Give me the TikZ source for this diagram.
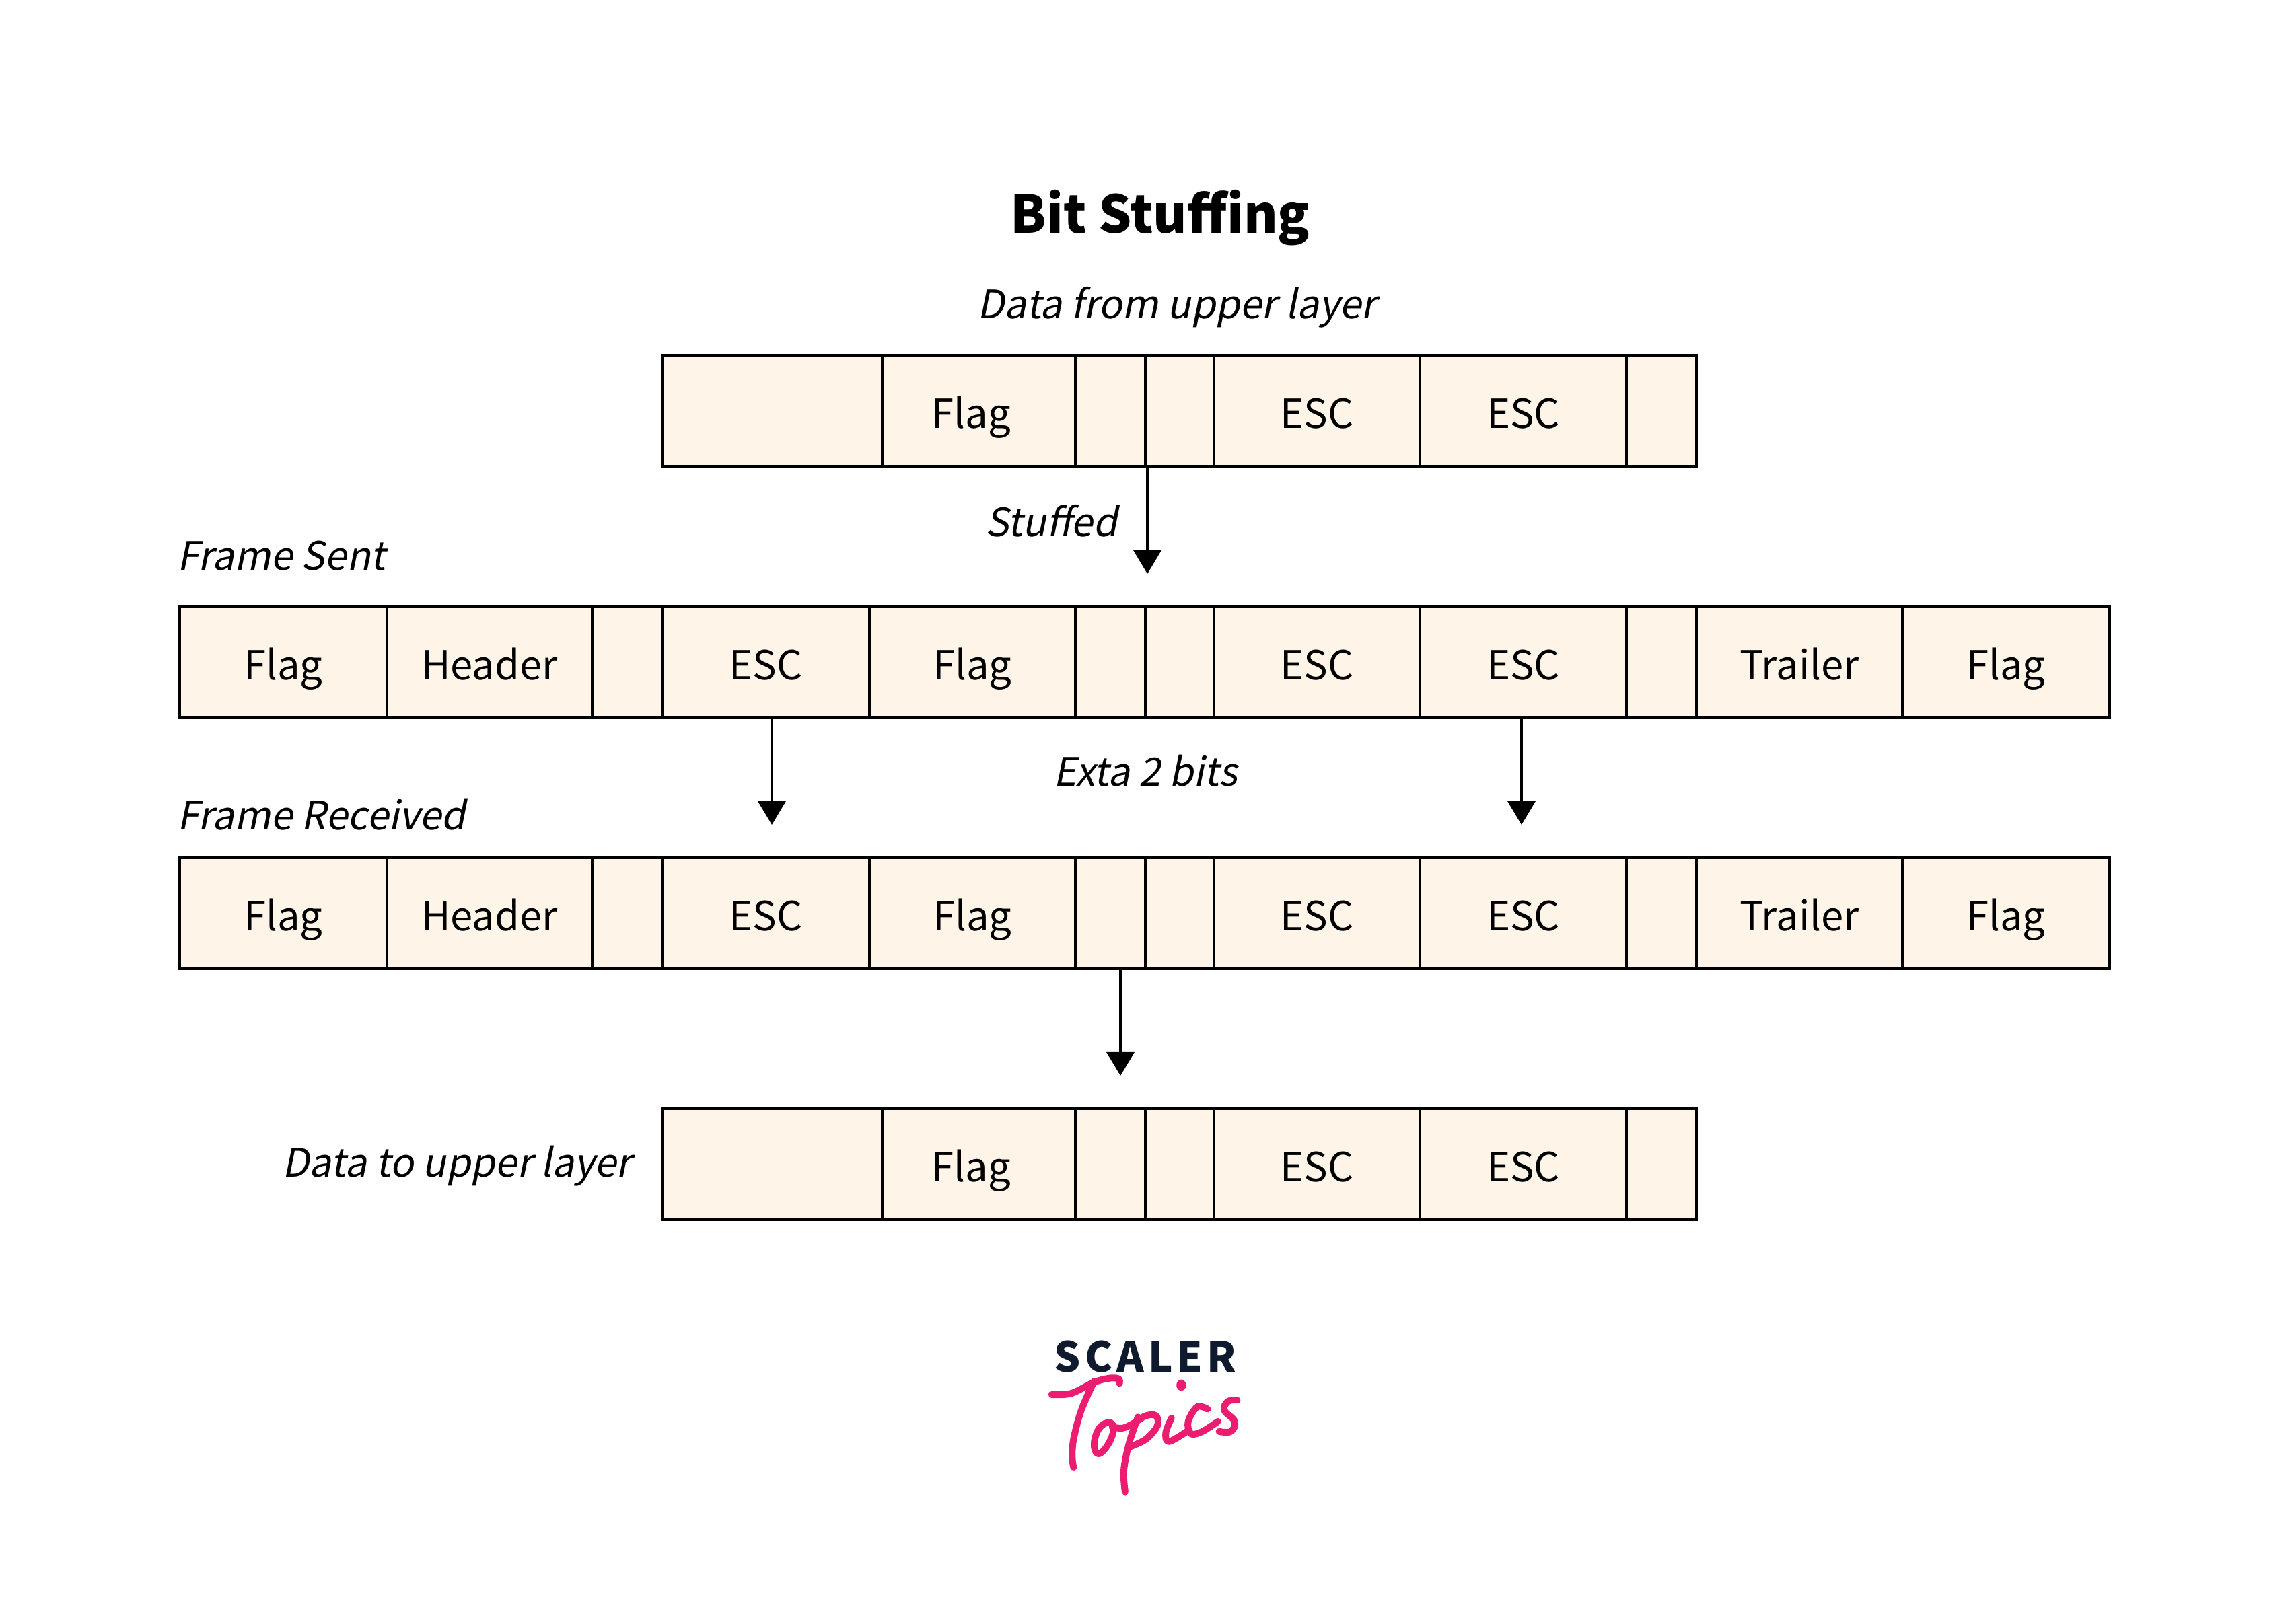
\documentclass[tikz,border=0pt]{standalone}
\usepackage{fontspec}
\setmainfont{Noto Sans CJK SC}[AutoFakeSlant=0.2]
\usetikzlibrary{arrows.meta}
\definecolor{cellfill}{HTML}{FEF5E8}
\definecolor{logodark}{HTML}{0F1A2E}
\definecolor{logopink}{HTML}{EC1C70}
\tikzset{
    cell/.style={draw=black,fill=cellfill,line width=1pt,anchor=south west,inner sep=0pt,outer sep=0pt,
        minimum height=1.65cm,font=\fontsize{17}{20}\selectfont,text height=.61cm,text depth=.09cm},
    caption/.style={font=\fontsize{16.6}{20}\selectfont\itshape,inner sep=0pt},
    arrow/.style={line width=1pt,-{Triangle[length=.35cm,width=.41cm]}},
    pen/.style={draw=logopink,line width=.1cm,line cap=round,line join=round}
}
\begin{document}
\begin{tikzpicture}
    \useasboundingbox (0,0) rectangle (34,24.14);
    \node[font=\fontsize{22}{26}\selectfont\bfseries,inner sep=0pt] (title) at (17.24,20.90) {Bit Stuffing};
    % rows of the whole frame
    \foreach \r/\y in {sent/13.47,recv/9.74} {
        \foreach \n/\x/\w/\t in {1/2.67/3.08/Flag,2/5.75/3.05/Header,3/8.80/1.04/,4/9.84/3.08/ESC,5/12.92/3.06/Flag,6/15.98/1.04/,7/17.02/1.02/,8/18.04/3.06/ESC,9/21.10/3.07/ESC,10/24.17/1.04/,11/25.21/3.06/Trailer,12/28.27/3.08/Flag} {
            \node[cell,minimum width=\w cm] (\r\n) at (\x,\y) {\t};
        }
    }
    % rows of the data only
    \foreach \r/\y in {upper/17.21,lower/6.01} {
        \foreach \n/\x/\w/\t in {1/9.84/3.27/,2/13.11/2.87/\hspace*{-.22cm}Flag,3/15.98/1.04/,4/17.02/1.02/,5/18.04/3.06/ESC,6/21.10/3.07/ESC,7/24.17/1.04/} {
            \node[cell,minimum width=\w cm] (\r\n) at (\x,\y) {\t};
        }
    }
    \node[caption,anchor=south] (fromupper) at (17.49,19.26) {Data from upper layer};
    \node[caption,anchor=base east] (stuffed) at (16.61,16.16) {Stuffed};
    \node[caption,anchor=base west] (framesent) at (2.63,15.66) {Frame Sent};
    \node[caption,anchor=base] (extra) at (17.02,12.45) {Exta 2 bits};
    \node[caption,anchor=base west] (framerecv) at (2.63,11.80) {Frame Received};
    \node[caption,anchor=base east] (toupper) at (9.39,6.64) {Data to upper layer};
    % arrows
    \coordinate (stufftip) at (17.05,15.61);
    \coordinate (esctip) at (11.47,11.88);
    \coordinate (esctipb) at (22.61,11.88);
    \coordinate (lowertip) at (16.65,8.15);
    \draw[arrow] (stufftip |- upper4.south) -- (stufftip);
    \draw[arrow] (esctip |- sent4.south) -- (esctip);
    \draw[arrow] (esctipb |- sent9.south) -- (esctipb);
    \draw[arrow] (lowertip |- recv6.south) -- (lowertip);
    % logo
    \node[font=\fontsize{17.5}{20}\selectfont\bfseries\addfontfeature{LetterSpace=10},text=logodark,inner sep=0pt,anchor=base] (scaler) at (17.02,3.74) {SCALER};
    \begin{scope}[shift={(14,5.14)},x=0.003827cm,y=-0.003333cm]
        \draw[pen] plot[smooth,tension=.6] coordinates {(425,520) (500,515) (590,465) (650,447) (685,450) (688,470)};
        \draw[pen] plot[smooth,tension=.6] coordinates {(590,460) (540,590) (510,720) (505,800) (510,845)};
        \draw[pen] plot[smooth cycle,tension=.7] coordinates {(650,645) (610,670) (590,740) (605,785) (640,750) (665,680)};
        \draw[pen] plot[smooth,tension=.6] coordinates {(660,665) (700,670) (740,650) (790,615) (830,615) (835,660) (790,720) (725,755)};
        \draw[pen] plot[smooth,tension=.6] coordinates {(760,620) (725,740) (705,860) (710,955)};
        \draw[pen] plot[smooth,tension=.6] coordinates {(890,625) (868,690) (880,730) (950,685)};
        \draw[pen,fill=logopink] (928,478) circle [x radius=6,y radius=10];
        \draw[pen] plot[smooth,tension=.6] coordinates {(1030,585) (990,575) (955,640) (965,695) (1010,685) (1070,640)};
        \draw[pen] plot[smooth,tension=.7] coordinates {(1145,545) (1110,550) (1095,590) (1135,640) (1120,685) (1075,685)};
    \end{scope}
\end{tikzpicture}
\end{document}
